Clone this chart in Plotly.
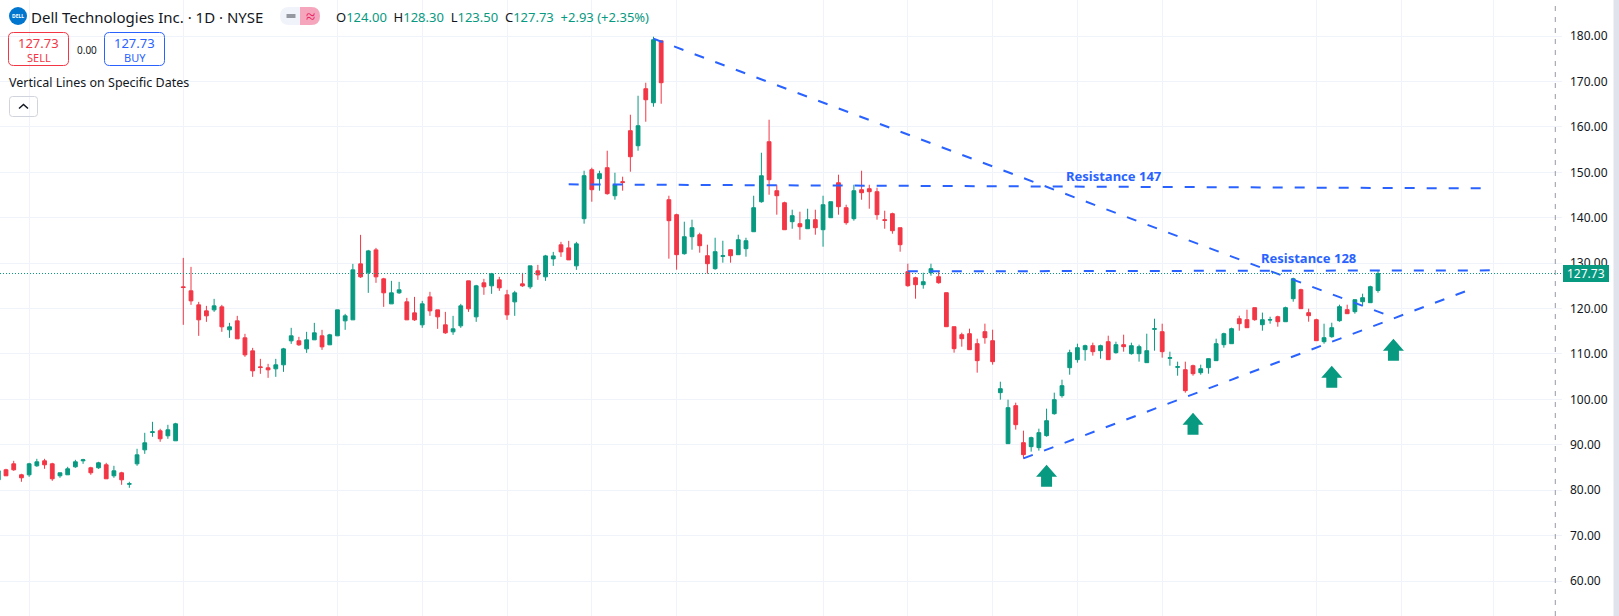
# Dell 1D candles with trend lines, TradingView look
import plotly.graph_objects as go

days = list(range(-24, 156))

opens = [
    82.29, 84.49, 85.81, 83.39, 83.39, 85.37, 86.47, 85.81, 83.17, 83.39, 85.15, 86.47,
    84.93, 84.93, 85.59, 83.17, 83.83, 81.33, 85.81, 88.89, 92.71, 93.08, 91.98, 90.88,
    124.79, 123.91, 120.82, 119.50, 119.72, 120.38, 115.32, 117.30, 113.56, 110.69, 107.17, 106.95,
    106.73, 107.61, 112.90, 112.90, 111.13, 113.12, 114.00, 112.02, 114.00, 117.30, 117.52, 129.85,
    127.87, 132.93, 126.55, 121.04, 123.47, 121.48, 119.06, 116.42, 122.58, 119.72, 116.42, 114.88,
    116.20, 126.11, 118.18, 125.67, 125.01, 126.33, 123.03, 121.48, 125.45, 124.79, 128.31, 126.99,
    130.95, 134.04, 133.37, 129.41, 139.80, 150.59, 148.61, 151.03, 144.86, 147.95, 159.18, 155.87,
    168.43, 165.34, 178.99, 143.98, 140.68, 132.09, 135.83, 136.27, 131.65, 128.79, 131.50, 132.97,
    131.87, 133.19, 136.93, 143.54, 156.75, 145.96, 143.32, 139.14, 138.70, 137.59, 139.58, 137.37,
    140.02, 147.72, 142.22, 139.80, 146.18, 146.40, 145.74, 139.58, 140.90, 137.81, 128.13, 126.80,
    125.26, 127.90, 127.02, 123.50, 116.01, 114.25, 114.47, 112.27, 114.91, 112.93, 101.48, 90.25,
    98.62, 90.47, 89.59, 89.37, 92.01, 96.85, 100.82, 106.98, 108.75, 110.95, 111.83, 110.73,
    112.71, 110.29, 112.05, 110.07, 110.07, 108.09, 115.43, 114.91, 109.04, 107.06, 106.54, 107.42,
    105.88, 106.98, 108.53, 112.05, 112.27, 117.77, 117.55, 120.20, 116.45, 117.48, 118.21, 117.11,
    122.18, 124.16, 119.10, 117.55, 112.71, 113.81, 117.33, 119.76, 119.32, 121.52, 121.30, 124.00,
]
highs = [
    84.50, 84.71, 86.47, 83.61, 86.03, 86.91, 86.91, 86.03, 83.83, 85.15, 86.69, 86.91,
    85.15, 86.25, 86.03, 85.37, 84.05, 81.85, 89.12, 92.64, 95.06, 93.52, 94.40, 94.84,
    131.17, 129.19, 121.48, 120.60, 122.14, 120.82, 116.86, 118.40, 114.44, 111.35, 108.93, 107.83,
    108.93, 111.35, 115.76, 113.78, 114.88, 116.86, 115.32, 114.44, 119.72, 118.84, 129.85, 136.24,
    132.93, 133.37, 126.77, 126.11, 125.89, 122.36, 122.58, 121.70, 123.69, 119.72, 119.28, 118.40,
    121.04, 126.11, 125.23, 126.55, 127.87, 126.99, 124.13, 123.91, 127.87, 129.41, 129.63, 131.83,
    132.49, 134.70, 134.92, 134.70, 150.37, 151.03, 150.37, 154.77, 149.93, 149.05, 162.70, 166.88,
    169.75, 179.88, 178.99, 144.86, 140.90, 139.14, 139.58, 136.71, 134.07, 135.61, 134.95, 132.97,
    136.27, 135.61, 144.86, 154.33, 161.60, 147.28, 143.54, 141.78, 141.34, 142.00, 141.78, 144.86,
    143.54, 149.49, 142.88, 147.28, 150.37, 147.28, 146.62, 141.56, 141.12, 137.81, 129.89, 127.02,
    127.90, 129.89, 128.13, 123.50, 116.01, 114.69, 115.57, 113.37, 116.68, 115.35, 103.90, 99.94,
    99.28, 93.11, 91.79, 93.55, 97.96, 101.48, 104.34, 110.95, 112.27, 112.05, 112.49, 112.05,
    114.03, 112.71, 114.25, 112.49, 112.05, 114.47, 117.77, 116.67, 110.51, 108.31, 108.31, 107.65,
    107.65, 108.97, 113.37, 114.69, 115.79, 118.43, 119.76, 120.20, 119.12, 118.21, 118.43, 120.42,
    126.80, 124.38, 119.98, 117.77, 116.67, 116.89, 120.86, 120.86, 121.96, 123.28, 125.04, 128.30,
]
lows = [
    81.90, 83.17, 84.27, 81.85, 82.95, 85.15, 84.71, 82.07, 82.73, 83.39, 84.93, 85.81,
    83.39, 84.71, 82.51, 82.73, 81.19, 80.53, 85.37, 88.01, 91.76, 90.66, 91.32, 90.88,
    116.42, 120.82, 114.00, 117.08, 119.28, 114.88, 113.56, 113.34, 109.37, 104.97, 105.63, 104.75,
    104.97, 106.07, 112.23, 111.79, 110.25, 113.12, 110.91, 112.02, 114.00, 115.32, 117.52, 126.77,
    123.47, 125.67, 120.38, 121.04, 123.25, 117.52, 117.30, 115.76, 118.40, 115.54, 114.44, 114.22,
    115.76, 119.28, 117.08, 123.03, 123.25, 123.91, 117.52, 118.40, 124.79, 124.35, 126.33, 126.11,
    129.41, 131.39, 130.73, 128.53, 138.70, 143.54, 145.97, 145.09, 143.98, 145.97, 150.15, 154.77,
    161.16, 164.46, 165.12, 130.99, 128.57, 131.87, 132.97, 132.31, 127.69, 128.57, 130.11, 130.11,
    131.87, 131.43, 136.93, 143.32, 145.08, 140.68, 137.37, 137.59, 135.17, 137.59, 136.27, 133.63,
    140.02, 140.68, 138.47, 139.36, 143.98, 142.00, 139.58, 137.59, 136.49, 132.53, 124.82, 122.18,
    124.38, 127.24, 125.48, 116.01, 110.29, 111.61, 110.95, 105.89, 112.27, 107.65, 99.94, 90.25,
    93.33, 86.95, 88.49, 88.71, 91.79, 96.63, 100.38, 105.44, 108.09, 108.53, 109.63, 108.97,
    108.75, 110.07, 110.51, 109.85, 108.31, 108.09, 110.73, 109.19, 107.42, 105.22, 101.48, 105.22,
    105.44, 105.66, 108.53, 111.39, 112.27, 115.13, 115.79, 117.33, 115.13, 116.67, 116.01, 117.11,
    121.52, 119.98, 117.11, 112.93, 112.27, 113.59, 117.11, 118.88, 118.88, 120.64, 121.30, 123.50,
]
closes = [
    84.27, 83.17, 84.49, 82.73, 85.81, 86.25, 85.59, 82.51, 83.83, 84.71, 86.25, 86.69,
    83.83, 86.03, 82.51, 84.27, 82.29, 81.41, 87.79, 90.44, 92.86, 91.32, 93.30, 94.62,
    124.64, 121.70, 117.52, 118.40, 120.60, 115.98, 115.98, 113.34, 109.81, 106.29, 107.02, 106.51,
    107.61, 111.13, 114.00, 112.02, 113.12, 114.66, 111.57, 114.22, 119.72, 118.40, 128.53, 126.99,
    132.71, 126.99, 123.47, 123.47, 124.13, 117.52, 117.52, 121.04, 119.50, 118.18, 114.66, 115.54,
    120.60, 119.94, 125.01, 124.79, 127.65, 124.57, 118.62, 123.47, 125.01, 129.41, 127.43, 131.61,
    131.61, 132.49, 130.73, 134.26, 149.27, 146.19, 149.71, 145.31, 147.29, 147.80, 153.45, 160.28,
    166.00, 179.22, 169.75, 139.36, 131.87, 135.83, 137.81, 133.85, 129.89, 132.53, 131.65, 131.65,
    135.17, 134.95, 142.22, 149.26, 148.38, 144.86, 137.37, 140.46, 138.03, 139.58, 137.81, 142.88,
    143.54, 142.44, 138.92, 145.96, 145.52, 145.74, 140.68, 139.43, 137.15, 134.07, 125.04, 125.26,
    125.92, 128.79, 125.70, 116.01, 111.17, 113.37, 110.95, 108.53, 113.59, 108.31, 102.36, 98.18,
    94.43, 87.83, 91.57, 92.67, 95.31, 99.94, 103.02, 110.29, 111.39, 111.83, 110.51, 111.83,
    108.75, 112.05, 111.61, 111.83, 111.61, 110.73, 115.57, 110.51, 109.19, 107.20, 101.92, 105.66,
    106.76, 108.97, 112.27, 114.47, 115.57, 116.67, 115.79, 117.55, 117.55, 117.55, 117.11, 120.20,
    126.58, 119.98, 118.44, 112.93, 113.59, 115.79, 120.42, 118.88, 121.96, 122.40, 124.82, 127.73,
]

# vertical grid sits on month starts
month_ticks = [-20, 0, 20, 31, 42, 53, 64, 83, 94, 105, 116, 127, 147, 158, 170]
price_ticks = [60, 70, 80, 90, 100, 110, 120, 130, 140, 150, 160, 170, 180]
last_price = 127.73

# drawn lines: (x0, x1), (y0, y1)
trend_down_x, trend_down_y = [61, 155.7], [179.45, 118.88]
trend_up_x, trend_up_y = [109, 166.3], [87.0, 123.79]
res147_x, res147_y = [50, 168.4], [147.36, 146.48]
res128_x, res128_y = [94, 169.5], [128.2, 128.42]

arrow_x = [112, 131, 149, 157]
arrow_y = [85.62, 97.07, 107.42, 113.37]

GREEN = "#089981"
RED = "#F23645"
BLUE = "#2962FF"
INK = "#131722"
GRID = "#f0f3fa"
FONT = "Noto Sans"

W, H = 1619, 616
PLOT_W = 1562


def px(x):
    return x / PLOT_W


def py(y):
    return 1 - y / H


def round_box(x0, y0, x1, y1, r):
    # rounded rectangle path in paper coordinates, r in pixels
    pts = [
        f"M {px(x0 + r)} {py(y0)}", f"L {px(x1 - r)} {py(y0)}", f"Q {px(x1)} {py(y0)} {px(x1)} {py(y0 + r)}",
        f"L {px(x1)} {py(y1 - r)}", f"Q {px(x1)} {py(y1)} {px(x1 - r)} {py(y1)}",
        f"L {px(x0 + r)} {py(y1)}", f"Q {px(x0)} {py(y1)} {px(x0)} {py(y1 - r)}",
        f"L {px(x0)} {py(y0 + r)}", f"Q {px(x0)} {py(y0)} {px(x0 + r)} {py(y0)}", "Z",
    ]
    return " ".join(pts)


def box_shape(x0, y0, x1, y1, r, line=None, fill=None):
    return dict(type="path", xref="paper", yref="paper", path=round_box(x0, y0, x1, y1, r),
                line=dict(color=line or "rgba(0,0,0,0)", width=1), fillcolor=fill or "rgba(0,0,0,0)")


def label(x, y, text, size=12, color=INK, anchor="center", family=FONT):
    return dict(xref="paper", yref="paper", x=px(x), y=py(y), text=text, showarrow=False, xanchor=anchor,
                yanchor="middle", font=dict(size=size, color=color, family=family))


fig = go.Figure()

fig.add_trace(go.Candlestick(
    x=days, open=opens, high=highs, low=lows, close=closes,
    increasing=dict(line=dict(color=GREEN, width=1), fillcolor=GREEN),
    decreasing=dict(line=dict(color=RED, width=1), fillcolor=RED),
    whiskerwidth=0, hoverinfo="skip", showlegend=False,
))

for lx, ly in [(trend_down_x, trend_down_y), (trend_up_x, trend_up_y), (res147_x, res147_y), (res128_x, res128_y)]:
    fig.add_trace(go.Scatter(x=lx, y=ly, mode="lines", hoverinfo="skip", showlegend=False,
                             line=dict(color=BLUE, width=2, dash="10px,12px")))

shapes = [
    # last price line and session break
    dict(type="line", xref="paper", yref="y", x0=0, x1=1, y0=last_price, y1=last_price,
         line=dict(color=GREEN, width=1, dash="1px,2px")),
    dict(type="line", xref="x", yref="paper", x0=178, x1=178, y0=0, y1=1,
         line=dict(color="#9598a1", width=1, dash="5px,6px")),
    # last price tag
    dict(type="rect", xref="paper", yref="paper", x0=px(1563), x1=px(1609), y0=py(282), y1=py(265),
         fillcolor=GREEN, line=dict(width=0)),
    # right edge strip
    dict(type="rect", xref="paper", yref="paper", x0=px(1613.5), x1=px(1619), y0=0, y1=1,
         fillcolor="#e0e3eb", line=dict(width=0)),
    # logo
    dict(type="circle", xref="paper", yref="paper", x0=px(9), x1=px(27), y0=py(25), y1=py(7),
         fillcolor="#0076CE", line=dict(width=0)),
    # status pill
    box_shape(280, 7, 320, 25, 9, fill="#f0f3fa"),
    dict(type="path", xref="paper", yref="paper", line=dict(width=0), fillcolor="#f5a6bd",
         path=f"M {px(300)} {py(7)} L {px(311)} {py(7)} Q {px(320)} {py(7)} {px(320)} {py(16)} "
              f"Q {px(320)} {py(25)} {px(311)} {py(25)} L {px(300)} {py(25)} Z"),
    dict(type="line", xref="paper", yref="paper", x0=px(286.5), x1=px(295.5), y0=py(16), y1=py(16),
         line=dict(color="#9598a1", width=4)),
    # sell / buy boxes
    box_shape(8.5, 32.5, 68.5, 65.5, 5, line=RED),
    box_shape(104.5, 32.5, 164.5, 65.5, 5, line=BLUE),
    # collapse button
    box_shape(9.5, 96.5, 37.5, 116.5, 3, line="#d1d4dc"),
    dict(type="path", xref="paper", yref="paper", line=dict(color=INK, width=1.5),
         path=f"M {px(19)} {py(108.5)} L {px(23.5)} {py(104.5)} L {px(28)} {py(108.5)}"),
]

# block arrows, tip anchored on the price, path in pixels
for ax, ay in zip(arrow_x, arrow_y):
    shapes.append(dict(type="path", xref="x", yref="y", xsizemode="pixel", ysizemode="pixel",
                       xanchor=ax, yanchor=ay, fillcolor=GREEN, line=dict(width=0),
                       path="M 0 0 L 10.5 -12 L 5.5 -12 L 5.5 -22 L -5.5 -22 L -5.5 -12 L -10.5 -12 Z"))

ohlc = (f"O<span style='color:{GREEN}'>124.00</span> &nbsp;H<span style='color:{GREEN}'>128.30</span> "
        f"&nbsp;L<span style='color:{GREEN}'>123.50</span> &nbsp;C<span style='color:{GREEN}'>127.73</span> "
        f"&nbsp;<span style='color:{GREEN}'>+2.93 (+2.35%)</span>")

annotations = [
    label(29, 16.5, "Dell Technologies Inc. · 1D · NYSE", size=15, anchor="left"),
    label(334, 16.5, ohlc, size=13, anchor="left"),
    label(18, 16, "<b>DELL</b>", size=5, color="white"),
    label(310, 15.5, "≈", size=17, color="#e91e63"),
    label(38.5, 43, "127.73", size=13, color=RED),
    label(38.5, 57, "SELL", size=11, color=RED),
    label(86.5, 49.5, "0.00", size=10),
    label(134.5, 43, "127.73", size=13, color=BLUE),
    label(134.5, 57, "BUY", size=11, color=BLUE),
    label(7, 82.5, "Vertical Lines on Specific Dates", size=12.5, anchor="left"),
    label(1586, 273.5, "127.73", size=12, color="white"),
    dict(xref="x", yref="y", x=114.3, y=149.1, text="<b>Resistance 147</b>", showarrow=False, xanchor="left",
         yanchor="middle", font=dict(size=13, color=BLUE, family=FONT)),
    dict(xref="x", yref="y", x=139.6, y=131.1, text="<b>Resistance 128</b>", showarrow=False, xanchor="left",
         yanchor="middle", font=dict(size=13, color=BLUE, family=FONT)),
]

fig.update_layout(
    width=W, height=H,
    margin=dict(l=0, r=W - PLOT_W, t=0, b=0),
    paper_bgcolor="white", plot_bgcolor="white",
    hovermode=False, showlegend=False,
    font=dict(family=FONT, color=INK),
    shapes=shapes, annotations=annotations,
    xaxis=dict(range=[-23.78, 178.87], rangeslider=dict(visible=False), tickvals=month_ticks,
               showticklabels=False, ticks="", showgrid=True, gridcolor=GRID, gridwidth=1,
               zeroline=False, showline=False),
    yaxis=dict(range=[52.29, 187.97], side="right", tickvals=price_ticks, tickformat=".2f",
               tickfont=dict(size=12, color=INK, family=FONT), ticks="", ticklabelstandoff=7,
               showgrid=True, gridcolor=GRID, gridwidth=1, zeroline=False, showline=False),
)

fig.write_html("out.html", config={"displayModeBar": False},
               post_script="document.body.style.margin='0';document.body.style.overflow='hidden';")
